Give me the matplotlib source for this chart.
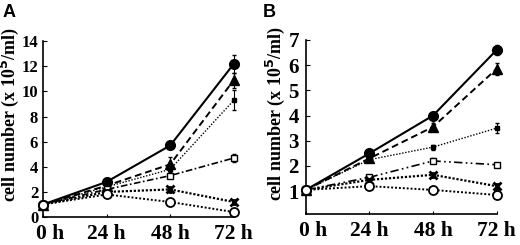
import matplotlib
matplotlib.use("Agg")
import matplotlib.pyplot as plt
import matplotlib.transforms as mtransforms
import numpy as np

plt.rcParams['font.family'] = ['Liberation Serif', 'DejaVu Serif']

hours = [0, 24, 48, 72]
hour_labels = ["0 h", "24 h", "48 h", "72 h"]

# panel A values (x 10^5/ml)
a_circle = [1.0, 2.8, 5.7, 12.2]
a_triangle = [1.0, 2.5, 4.2, 10.9]
a_square = [1.0, 2.4, 3.8, 9.3]
a_open_square = [1.0, 2.2, 3.3, 4.7]
a_cross = [1.0, 2.0, 2.2, 1.2]
a_open_circle = [1.0, 1.8, 1.2, 0.4]

a_circle_err = [0, 0.15, 0.15, 0.7]
a_triangle_err = [0, 0.15, 0.6, 0.6]
a_square_err = [0, 0.1, 0.3, 0.8]
a_open_square_err = [0, 0.1, 0.2, 0.3]
a_cross_err = [0, 0.1, 0.2, 0.15]
a_open_circle_err = [0, 0.15, 0.2, 0.1]

# panel B values
b_circle = [1.05, 2.5, 4.0, 6.6]
b_triangle = [1.05, 2.3, 3.55, 5.85]
b_square = [1.05, 2.25, 2.75, 3.5]
b_open_square = [1.05, 1.55, 2.2, 2.05]
b_cross = [1.05, 1.45, 1.65, 1.2]
b_open_circle = [1.05, 1.2, 1.05, 0.85]

b_circle_err = [0, 0.1, 0.15, 0.2]
b_triangle_err = [0, 0.1, 0.15, 0.25]
b_square_err = [0, 0.05, 0.1, 0.2]
b_open_square_err = [0, 0.05, 0.1, 0.05]
b_cross_err = [0, 0.05, 0.08, 0.1]
b_open_circle_err = [0, 0.05, 0.1, 0.15]


def draw(ax, series, dashdot):
    styles = [
        dict(marker="o", ms=7, mfc="k", ls="-", lw=1.5),
        dict(marker="^", ms=6.5, mfc="k", ls=(0, (3.5, 2)), lw=1.4),
        dict(marker="s", ms=3.5, mfc="k", ls=(0, (1, 1.2)), lw=1.0),
        dict(marker="s", ms=4.5, mfc="w", ls=dashdot, lw=1.2),
        dict(marker="x", ms=6, mew=2, mfc="k", ls=(0, (1, 0.8)), lw=1.6),
        dict(marker="o", ms=6.5, mfc="w", mew=1.3, ls=(0, (1, 1)), lw=1.4),
    ]
    for (vals, err), st in zip(series, styles):
        ax.errorbar(hours, vals, yerr=err, color="k", capsize=1.5,
                    elinewidth=0.8, clip_on=False, zorder=3, **st)


fig = plt.figure(figsize=(5.2, 2.45), dpi=100)
axA = fig.add_axes([0.0827, 0.114, 0.367, 0.718])
axB = fig.add_axes([0.588, 0.127, 0.367, 0.710])

draw(axA, [(a_circle, a_circle_err), (a_triangle, a_triangle_err),
           (a_square, a_square_err), (a_open_square, a_open_square_err),
           (a_cross, a_cross_err), (a_open_circle, a_open_circle_err)],
     (0, (4, 1.5, 1, 1.5)))
draw(axB, [(b_circle, b_circle_err), (b_triangle, b_triangle_err),
           (b_square, b_square_err), (b_open_square, b_open_square_err),
           (b_cross, b_cross_err), (b_open_circle, b_open_circle_err)],
     (0, (5, 2, 1, 2, 1, 2)))

axA.set_ylim(0, 14)
axA.set_yticks(range(0, 15, 2))
axB.set_ylim(0.1, 7)
axB.set_yticks(range(1, 8))

for ax, lx, ly, ysize, ypad in ((axA, -0.113, 0.585, 12, 3.5),
                                (axB, -0.1, 0.58, 15, 5)):
    ax.set_xlim(0, 72)
    ax.set_xticks(hours)
    ax.set_xticklabels(hour_labels)
    ax.spines['top'].set_visible(False)
    ax.spines['right'].set_visible(False)
    ax.spines['left'].set_linewidth(1.2)
    ax.spines['bottom'].set_linewidth(1.2)
    ax.tick_params(axis='y', direction='in', length=3, width=0.8, pad=ypad,
                   labelsize=ysize)
    ax.tick_params(axis='x', direction='in', length=2, width=0.8, pad=5,
                   labelsize=15.5)
    for lab in ax.get_yticklabels() + ax.get_xticklabels():
        lab.set_fontweight('bold')
    ax.set_ylabel("cell number (x 10$^{\\mathbf{5}}$/ml)", fontsize=13,
                  fontweight='bold')
    ax.yaxis.set_label_coords(lx, ly)
    # shift "0 h" slightly right as in the figure
    first = ax.get_xticklabels()[0]
    first.set_transform(first.get_transform() +
                        mtransforms.ScaledTranslation(7 / 100, 0, fig.dpi_scale_trans))

fig.text(0.004, 0.93, "A", fontsize=13, fontweight='bold',
         family=['Liberation Sans', 'DejaVu Sans'])
fig.text(0.505, 0.93, "B", fontsize=13, fontweight='bold',
         family=['Liberation Sans', 'DejaVu Sans'])

fig.savefig("out.png", dpi=100)
